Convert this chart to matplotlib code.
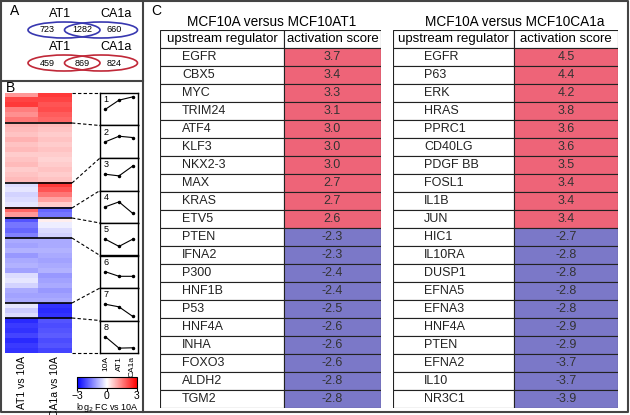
import numpy as np
import matplotlib.pyplot as plt
from matplotlib.patches import Ellipse

plt.rcParams['font.family'] = ['Liberation Sans', 'DejaVu Sans']

W, H = 630, 415

# panel A: overlap of up / down regulated genes
venn_labels = ['AT1', 'CA1a']
venn_up = [723, 1282, 660]
venn_down = [459, 869, 824]

# panel B: log2 FC heatmap, rows grouped in 8 clusters
cluster_sizes = [6, 12, 5, 2, 4, 13, 3, 7]
at1_fc = [1.2, 2.2, 2.3, 1.5, 1.3, 1.6,
          0.9, 0.8, 0.7, 0.9, 0.7, 0.8, 0.6, 0.7, 0.8, 0.6, 0.7, 0.8,
          -0.4, -0.3, -0.5, -0.4, -0.3,
          1.8, 1.2,
          -2.0, -1.6, -1.8, -1.5,
          -1.0, -1.1, -0.9, -1.2, -1.0, -0.9, -1.1, -0.4, -0.3, -0.5, -1.0, -1.1, -1.0,
          -0.3, -0.6, -0.4,
          -2.5, -2.3, -2.4, -2.2, -2.5, -2.3, -2.4]
ca1a_fc = [2.3, 2.2, 2.0, 2.1, 1.9, 1.8,
           0.8, 0.7, 0.6, 0.7, 0.6, 0.7, 0.6, 0.5, 0.6, 0.7, 0.6, 0.7,
           2.3, 2.0, 1.6, 1.1, 0.6,
           -1.8, -1.6,
           0.2, -0.2, -0.4, -0.5,
           -1.0, -1.0, -0.9, -1.0, -1.1, -1.0, -0.9, -1.2, -1.1, -1.0, -1.2, -1.1, -1.0,
           -2.4, -2.5, -2.4,
           -2.0, -2.1, -2.0, -1.9, -2.1, -2.0, -2.2]
heat_labels = ['AT1 vs 10A', 'CA1a vs 10A']
profile_conditions = ['10A', 'AT1', 'CA1a']
cluster_profiles = [[0.5, 0.78, 0.88],
                    [0.5, 0.67, 0.63],
                    [0.5, 0.45, 0.75],
                    [0.5, 0.65, 0.3],
                    [0.5, 0.28, 0.5],
                    [0.5, 0.36, 0.36],
                    [0.5, 0.42, 0.13],
                    [0.5, 0.15, 0.16]]

# panel C: upstream regulators
at1_regulators = ['EGFR', 'CBX5', 'MYC', 'TRIM24', 'ATF4', 'KLF3', 'NKX2-3', 'MAX',
                  'KRAS', 'ETV5', 'PTEN', 'IFNA2', 'P300', 'HNF1B', 'P53', 'HNF4A',
                  'INHA', 'FOXO3', 'ALDH2', 'TGM2']
at1_scores = [3.7, 3.4, 3.3, 3.1, 3.0, 3.0, 3.0, 2.7, 2.7, 2.6,
              -2.3, -2.3, -2.4, -2.4, -2.5, -2.6, -2.6, -2.6, -2.8, -2.8]
ca1a_regulators = ['EGFR', 'P63', 'ERK', 'HRAS', 'PPRC1', 'CD40LG', 'PDGF BB', 'FOSL1',
                   'IL1B', 'JUN', 'HIC1', 'IL10RA', 'DUSP1', 'EFNA5', 'EFNA3', 'HNF4A',
                   'PTEN', 'EFNA2', 'IL10', 'NR3C1']
ca1a_scores = [4.5, 4.4, 4.2, 3.8, 3.6, 3.6, 3.5, 3.4, 3.4, 3.4,
               -2.7, -2.8, -2.8, -2.8, -2.8, -2.9, -2.9, -3.7, -3.7, -3.9]

fig = plt.figure(figsize=(W / 100, H / 100), dpi=100)


def px_axes(x0, y0, x1, y1):
    return fig.add_axes([x0 / W, 1 - y1 / H, (x1 - x0) / W, (y1 - y0) / H])


overlay = fig.add_axes([0, 0, 1, 1])
overlay.set_xlim(0, W)
overlay.set_ylim(H, 0)
overlay.axis('off')

# frames
overlay.plot([1, 628, 628, 1, 1], [1, 1, 412, 412, 1], color='#444444', lw=1.5)
overlay.plot([143, 143], [1, 412], color='#444444', lw=1.5)
overlay.plot([1, 143], [81, 81], color='#444444', lw=1.5)
overlay.text(10, 11, 'A', fontsize=10, va='center')
overlay.text(6, 88, 'B', fontsize=10, va='center')
overlay.text(151, 11, 'C', fontsize=10, va='center')

# panel A venn
for yc, vals, col in [(30, venn_up, '#3838B0'), (63, venn_down, '#C02838')]:
    overlay.add_patch(Ellipse((64, yc), 72, 16, fill=False, ec=col, lw=1.2))
    overlay.add_patch(Ellipse((101, yc), 73, 16, fill=False, ec=col, lw=1.2))
    overlay.text(60, yc - 16, venn_labels[0], fontsize=9, ha='center', va='center')
    overlay.text(116, yc - 16, venn_labels[1], fontsize=9, ha='center', va='center')
    for x, v in zip([47, 82, 114], vals):
        overlay.text(x, yc, str(v), fontsize=6.5, ha='center', va='center')

# panel B heatmap
hm_top, hm_bot = 93, 353
hm = np.column_stack([at1_fc, ca1a_fc])
ax_hm = px_axes(5, hm_top, 72, hm_bot)
im = ax_hm.imshow(hm, cmap='bwr', vmin=-3, vmax=3, aspect='auto', interpolation='nearest')
bounds = np.cumsum(cluster_sizes)
for b in bounds[:-1]:
    ax_hm.axhline(b - 0.5, color='black', lw=1.2)
for s in ax_hm.spines.values():
    s.set_visible(False)
ax_hm.set_yticks([])
ax_hm.set_xticks([0, 1])
ax_hm.set_xticklabels(heat_labels, rotation=90, fontsize=7.5)
ax_hm.tick_params(length=0, pad=2)

# connectors heatmap -> profile boxes
n_rows = len(at1_fc)
box_h = (hm_bot - hm_top) / len(cluster_sizes)
edges = np.concatenate([[0], bounds])
for k, e in enumerate(edges):
    yh = hm_top + e / n_rows * (hm_bot - hm_top)
    yb = hm_top + k * box_h
    overlay.plot([72, 100], [yh, yb], color='black', lw=0.8, dashes=(3, 2))

# cluster profiles
for i, prof in enumerate(cluster_profiles):
    ax = px_axes(100, hm_top + i * box_h, 138, hm_top + (i + 1) * box_h)
    ax.plot(range(3), prof, color='black', lw=0.8, marker='o', ms=1.5)
    ax.set_xlim(-0.4, 2.4)
    ax.set_ylim(0, 1)
    ax.set_yticks([])
    ax.text(0.1, 0.93, str(i + 1), transform=ax.transAxes, fontsize=6.5, va='top')
    for s in ax.spines.values():
        s.set_linewidth(1.0)
    if i == len(cluster_profiles) - 1:
        ax.set_xticks([0, 1, 2])
        ax.set_xticklabels(profile_conditions, rotation=90, fontsize=6)
        ax.tick_params(length=0, pad=2)
    else:
        ax.set_xticks([])

# colorbar
cax = px_axes(77, 377, 137, 388)
cb = fig.colorbar(im, cax=cax, orientation='horizontal', ticks=[-3, 0, 3])
cb.ax.tick_params(labelsize=7.5, length=2, pad=0.5)
cb.set_label('log$_2$ FC vs 10A', fontsize=6.5, labelpad=0)
cb.outline.set_linewidth(0.8)


# panel C tables
def draw_table(x0, x1, split_px, name_px, regs, scores, title, title_x):
    top, bot = 30, 408
    ax = px_axes(x0, top, x1, bot)
    ax.set_xlim(0, x1 - x0)
    ax.set_ylim(len(regs) + 1, 0)
    ax.axis('off')
    split = split_px - x0
    rows = np.arange(len(regs) + 1) + 0.5
    colors = ['white'] + ['#EE6478' if s > 0 else '#7B78C8' for s in scores]
    ax.barh(rows, split, left=0, height=1, color='white', edgecolor='#222222', lw=0.8)
    ax.barh(rows, (x1 - x0) - split, left=split, height=1, color=colors,
            edgecolor='#222222', lw=0.8)
    ax.text(split / 2, 0.5, 'upstream regulator', fontsize=9.5, ha='center', va='center')
    ax.text((split + x1 - x0) / 2, 0.5, 'activation score', fontsize=9.5,
            ha='center', va='center')
    for r, name, sc in zip(rows[1:], regs, scores):
        ax.text(name_px - x0, r, name, fontsize=9, ha='left', va='center', color='#222222')
        ax.text((split + x1 - x0) / 2, r, f'{sc:.1f}', fontsize=9, ha='center',
                va='center', color='#333333')
    overlay.text(title_x, 22, title, fontsize=9.8, ha='center', va='center')


draw_table(160, 381, 284, 182, at1_regulators, at1_scores, 'MCF10A versus MCF10AT1', 272)
draw_table(393, 618, 514, 424, ca1a_regulators, ca1a_scores, 'MCF10A versus MCF10CA1a', 515)

fig.savefig('out.png', dpi=100)
